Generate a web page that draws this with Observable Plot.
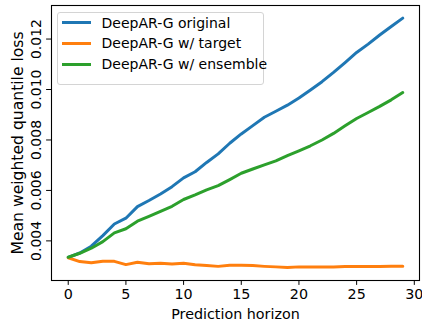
<!DOCTYPE html>
<html>
<head>
<meta charset="utf-8">
<script src="https://cdn.jsdelivr.net/npm/d3@7"></script>
<script src="https://cdn.jsdelivr.net/npm/@observablehq/plot@0.6"></script>
<style>
  html, body { margin: 0; padding: 0; background: #fff; }
  #wrap { position: relative; width: 422px; height: 320px; font-family: "DejaVu Sans", sans-serif; }
  #legend { position: absolute; left: 57px; top: 12px; width: 207px; height: 73px; box-sizing: border-box;
            border: 1px solid #d4d4d4; border-radius: 3px; background: rgba(255,255,255,0.8); }
  .row { position: absolute; left: 0; height: 20px; line-height: 20px; white-space: nowrap; font-size: 14px; color: #000; }
  .sw { position: absolute; left: 4px; top: 8.5px; width: 29px; height: 3px; }
  .lb { position: absolute; left: 43.5px; top: 0; }
</style>
</head>
<body>
<div id="wrap"><div id="chart"></div><div id="legend"></div></div>
<script>
const horizon = [0,1,2,3,4,5,6,7,8,9,10,11,12,13,14,15,16,17,18,19,20,21,22,23,24,25,26,27,28,29];
const original = [0.00335,0.00352,0.00379,0.00421,0.00467,0.00490,0.00536,0.00560,0.00586,0.00615,
                  0.00650,0.00674,0.00711,0.00745,0.00787,0.00824,0.00857,0.00890,0.00914,0.00938,
                  0.00966,0.00998,0.01031,0.01068,0.01107,0.01147,0.01180,0.01216,0.01250,0.01283];
const target   = [0.00333,0.00318,0.00313,0.00319,0.00319,0.00306,0.00315,0.00309,0.00311,0.00308,
                  0.00311,0.00305,0.00302,0.00299,0.00303,0.00303,0.00302,0.00299,0.00297,0.00295,
                  0.00297,0.00297,0.00297,0.00297,0.00298,0.00298,0.00298,0.00298,0.00299,0.00299];
const ensemble = [0.00335,0.00351,0.00371,0.00397,0.00432,0.00448,0.00478,0.00497,0.00517,0.00537,
                  0.00564,0.00582,0.00602,0.00619,0.00643,0.00668,0.00685,0.00701,0.00717,0.00738,
                  0.00757,0.00777,0.00800,0.00826,0.00856,0.00885,0.00909,0.00933,0.00959,0.00988];
const seriesNames = ["DeepAR-G original", "DeepAR-G w/ target", "DeepAR-G w/ ensemble"];
const seriesColors = ["#1f77b4", "#ff7f0e", "#2ca02c"];
const xTicks = [0, 5, 10, 15, 20, 25, 30];
const yTicks = [0.004, 0.006, 0.008, 0.010, 0.012];
const xLabel = "Prediction horizon";
const yLabel = "Mean weighted quantile loss";

const seriesValues = [original, target, ensemble];
const rows = [];
seriesNames.forEach((name, k) => horizon.forEach((h, i) => rows.push({series: name, h, v: seriesValues[k][i]})));

const chart = Plot.plot({
  width: 422, height: 320,
  marginLeft: 51, marginTop: 5, marginRight: 3, marginBottom: 40,
  style: {fontFamily: "DejaVu Sans, sans-serif", fontSize: "14px", color: "#000", background: "#fff", overflow: "visible"},
  x: {domain: [-1.45, 30.45]},
  y: {domain: [0.00243, 0.01333]},
  color: {domain: seriesNames, range: seriesColors},
  marks: [
    Plot.axisX({ticks: xTicks, tickSize: 4.9, tickPadding: 3, tickFormat: d => String(d),
                label: xLabel, labelAnchor: "center", labelArrow: "none", labelOffset: 38, fontSize: 14.3}),
    Plot.axisY({ticks: yTicks, tickSize: 4.9, tickPadding: 6, tickRotate: -90, tickFormat: d3.format(".3f"),
                label: null, fontSize: 14}),
    Plot.text([yLabel], {text: d => d, frameAnchor: "left", rotate: -90, dx: -34,
                         textAnchor: "middle", lineAnchor: "middle", fontSize: 15.6, fill: "#000"}),
    Plot.line(rows, {x: "h", y: "v", z: "series", stroke: "series", strokeWidth: 3, strokeLinejoin: "round"}),
    Plot.frame({stroke: "#000", strokeWidth: 1.1})
  ]
});
document.getElementById("chart").appendChild(chart);

const legend = document.getElementById("legend");
seriesNames.forEach((name, k) => {
  const row = document.createElement("div");
  row.className = "row";
  row.style.top = (-0.5 + k * 20.8) + "px";
  const sw = document.createElement("div");
  sw.className = "sw";
  sw.style.background = seriesColors[k];
  const lb = document.createElement("span");
  lb.className = "lb";
  lb.textContent = name;
  row.appendChild(sw); row.appendChild(lb);
  legend.appendChild(row);
});
</script>
</body>
</html>
